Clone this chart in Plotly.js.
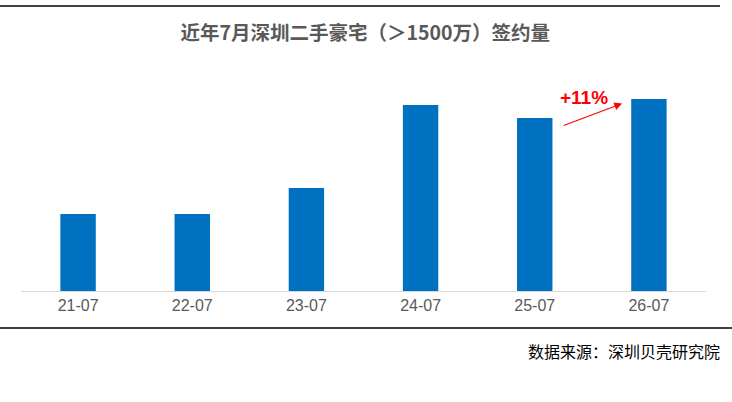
<!DOCTYPE html>
<html>
<head>
<meta charset="utf-8">
<script src="https://cdn.plot.ly/plotly-3.0.1.min.js"></script>
<style>
html,body{margin:0;padding:0;background:#fff;}
#chart{width:732px;height:402px;}
</style>
</head>
<body>
<div id="chart"></div>
<script>
// Data
const categories = ["21-07", "22-07", "23-07", "24-07", "25-07", "26-07"];
const values = [77, 77, 103, 186, 173, 192];
const titleText = "近年7月深圳二手豪宅（＞1500万）签约量";
const sourceText = "数据来源：深圳贝壳研究院";

const growth = Math.round((values[5] / values[4] - 1) * 100);

// Plot area geometry (px)
const W = 732, H = 402;
const L = 21, R = 26, T = 71, B = 111;
const pw = W - L - R, ph = H - T - B;
const px = x => (x - L) / pw;
const py = y => (H - B - y) / ph;

const trace = {
  type: "bar",
  x: categories,
  y: values,
  marker: {color: "#0070C0"},
  width: 0.31,
  hoverinfo: "none"
};

const layout = {
  width: W, height: H,
  margin: {l: L, r: R, t: T, b: B, pad: 0},
  paper_bgcolor: "#ffffff",
  plot_bgcolor: "#ffffff",
  showlegend: false,
  title: {
    text: "<b>" + titleText + "</b>",
    x: 0.499, xanchor: "center",
    y: 1 - 33 / H, yanchor: "middle",
    font: {family: "Noto Sans CJK SC, sans-serif", size: 19.5, color: "#595959"}
  },
  xaxis: {
    type: "category",
    range: [-0.5, 5.5],
    showgrid: false,
    showline: true,
    linecolor: "#d9d9d9",
    linewidth: 1,
    ticks: "",
    tickfont: {family: "Liberation Sans, Arial, sans-serif", size: 16, color: "#595959"},
    fixedrange: true
  },
  yaxis: {
    range: [0, ph],
    visible: false,
    showgrid: false,
    zeroline: false,
    fixedrange: true
  },
  shapes: [
    {type: "line", xref: "paper", yref: "paper", x0: px(0), x1: px(720), y0: py(6), y1: py(6),
     line: {color: "#000000", width: 1.5}},
    {type: "line", xref: "paper", yref: "paper", x0: px(0), x1: px(732), y0: py(328), y1: py(328),
     line: {color: "#000000", width: 1.5}}
  ],
  annotations: [
    {
      xref: "x", yref: "y", axref: "x", ayref: "y",
      x: 4.765, y: 187.5, ax: 4.24, ay: 165,
      text: "", showarrow: true, arrowhead: 2, arrowsize: 1.3, arrowwidth: 1.2,
      arrowcolor: "#ff0000"
    },
    {
      xref: "x", yref: "y",
      x: 4.43, y: 193.5,
      text: "<b>+" + growth + "%</b>", showarrow: false,
      font: {family: "Liberation Sans, Arial, sans-serif", size: 19, color: "#ff0000"},
      xanchor: "center", yanchor: "middle"
    },
    {
      xref: "paper", yref: "paper",
      x: px(722), y: py(351),
      text: sourceText, showarrow: false,
      xanchor: "right", yanchor: "middle",
      font: {family: "Noto Sans CJK SC, sans-serif", size: 16, color: "#000000"}
    }
  ]
};

Plotly.newPlot("chart", [trace], layout, {displayModeBar: false, staticPlot: true});
</script>
</body>
</html>
